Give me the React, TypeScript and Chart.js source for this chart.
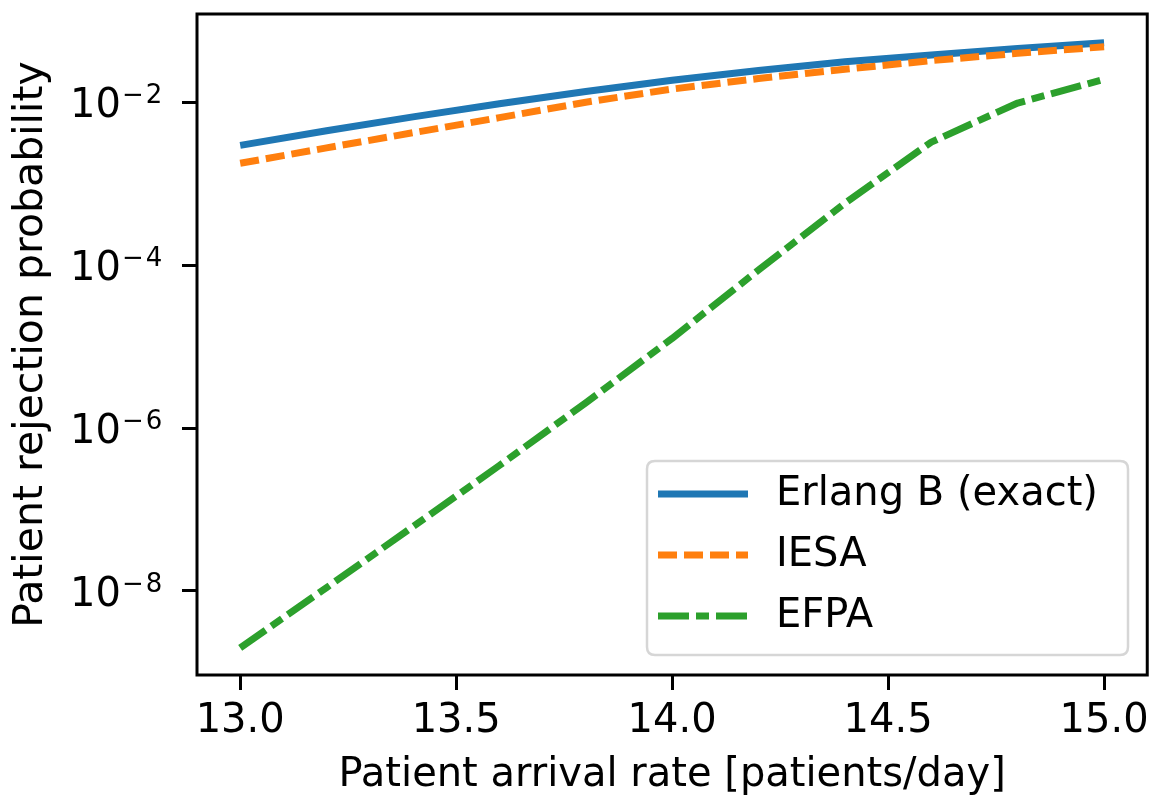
import React, { useEffect, useRef } from 'react';
import { Chart, registerables } from 'chart.js';

Chart.register(...registerables);

// Patient arrival rate [patients/day]
const arrivalRates = [13.0, 13.2, 13.4, 13.6, 13.8, 14.0, 14.2, 14.4, 14.6, 14.8, 15.0];
// Patient rejection probability
const erlangB = [2.95e-3, 4.47e-3, 6.61e-3, 9.55e-3, 1.35e-2, 1.86e-2, 2.45e-2, 3.13e-2, 3.8e-2, 4.57e-2, 5.37e-2];
const iesa = [1.78e-3, 2.75e-3, 4.22e-3, 6.46e-3, 1.0e-2, 1.45e-2, 1.95e-2, 2.54e-2, 3.24e-2, 3.98e-2, 4.79e-2];
const efpa = [2.0e-9, 1.1e-8, 6.17e-8, 3.47e-7, 2.04e-6, 1.26e-5, 8.71e-5, 5.75e-4, 3.24e-3, 9.77e-3, 1.91e-2];

const seriesNames = ['Erlang B (exact)', 'IESA', 'EFPA'];
const xTicks = [13.0, 13.5, 14.0, 14.5, 15.0];
const yTicks = [1e-8, 1e-6, 1e-4, 1e-2];

const FONT = 'DejaVu Sans';

export default function App() {
  const ref = useRef<HTMLCanvasElement>(null);

  useEffect(() => {
    const canvas = ref.current;
    if (!canvas) return;

    const boxPlugin = {
      id: 'axesBox',
      afterDatasetsDraw(chart: any) {
        const { ctx, chartArea: a } = chart;
        ctx.save();
        ctx.strokeStyle = '#000';
        ctx.lineWidth = 3;
        ctx.strokeRect(a.left, a.top, a.right - a.left, a.bottom - a.top);
        ctx.restore();
      },
    };

    const yLabelPlugin = {
      id: 'yMathLabels',
      afterDraw(chart: any) {
        const { ctx } = chart;
        const scale = chart.scales.y;
        ctx.save();
        ctx.fillStyle = '#000';
        ctx.textAlign = 'left';
        ctx.textBaseline = 'alphabetic';
        for (const v of yTicks) {
          const py = scale.getPixelForValue(v);
          const exp = Math.round(Math.log10(v));
          ctx.font = `40px "${FONT}"`;
          const x0 = 70;
          ctx.fillText('10', x0, py + 15);
          const w10 = ctx.measureText('10').width;
          ctx.font = `26px "${FONT}"`;
          const xm = x0 + w10 + 1;
          const sign = exp < 0 ? '\u2212' : '';
          ctx.fillText(sign, xm, py + 1);
          const wm = ctx.measureText(sign).width;
          ctx.fillText(String(Math.abs(exp)), xm + wm + 2, py + 1);
        }
        ctx.restore();
      },
    };

    const legendPlugin = {
      id: 'mplLegend',
      afterDraw(chart: any) {
        const { ctx } = chart;
        const x0 = 647, y0 = 461, x1 = 1128, y1 = 655, r = 8;
        ctx.save();
        ctx.beginPath();
        ctx.moveTo(x0 + r, y0);
        ctx.lineTo(x1 - r, y0);
        ctx.quadraticCurveTo(x1, y0, x1, y0 + r);
        ctx.lineTo(x1, y1 - r);
        ctx.quadraticCurveTo(x1, y1, x1 - r, y1);
        ctx.lineTo(x0 + r, y1);
        ctx.quadraticCurveTo(x0, y1, x0, y1 - r);
        ctx.lineTo(x0, y0 + r);
        ctx.quadraticCurveTo(x0, y0, x0 + r, y0);
        ctx.closePath();
        ctx.fillStyle = 'rgba(255,255,255,0.8)';
        ctx.fill();
        ctx.strokeStyle = '#d6d6d6';
        ctx.lineWidth = 2.5;
        ctx.stroke();
        const rows = [494, 555, 616];
        chart.data.datasets.forEach((ds: any, i: number) => {
          const y = rows[i];
          ctx.beginPath();
          ctx.setLineDash(ds.borderDash || []);
          ctx.lineCap = 'butt';
          ctx.strokeStyle = ds.borderColor;
          ctx.lineWidth = ds.borderWidth;
          ctx.moveTo(658, y);
          ctx.lineTo(748, y);
          ctx.stroke();
          ctx.setLineDash([]);
          ctx.fillStyle = '#000';
          ctx.font = `40px "${FONT}"`;
          ctx.textAlign = 'left';
          ctx.textBaseline = 'middle';
          ctx.fillText(ds.label, 776, y + 1);
        });
        ctx.restore();
      },
    };

    const mk = (vals: number[]) => arrivalRates.map((x, i) => ({ x, y: vals[i] }));

    const chart = new Chart(canvas, {
      type: 'line',
      data: {
        datasets: [
          {
            label: seriesNames[0],
            data: mk(erlangB),
            borderColor: '#1f77b4',
            borderWidth: 7,
            borderDash: [],
            pointRadius: 0,
            tension: 0,
            order: 3,
            borderCapStyle: 'butt',
            borderJoinStyle: 'round',
          },
          {
            label: seriesNames[1],
            data: mk(iesa),
            borderColor: '#ff7f0e',
            borderWidth: 7,
            borderDash: [19, 7],
            pointRadius: 0,
            tension: 0,
            order: 2,
            borderCapStyle: 'butt',
            borderJoinStyle: 'round',
          },
          {
            label: seriesNames[2],
            data: mk(efpa),
            borderColor: '#2ca02c',
            borderWidth: 7,
            borderDash: [31, 7, 13, 7],
            pointRadius: 0,
            tension: 0,
            order: 1,
            borderCapStyle: 'butt',
            borderJoinStyle: 'round',
          },
        ],
      },
      options: {
        responsive: false,
        animation: false,
        devicePixelRatio: 1,
        layout: { padding: { left: 0, top: 14, right: 9, bottom: 0 } },
        plugins: {
          legend: { display: false },
          tooltip: { enabled: false },
        },
        scales: {
          x: {
            type: 'linear',
            min: 12.9,
            max: 15.1,
            afterBuildTicks(scale: any) {
              scale.ticks = xTicks.map((v) => ({ value: v }));
            },
            afterFit(scale: any) {
              scale.height = 127;
            },
            border: { display: false },
            grid: {
              display: true,
              drawOnChartArea: false,
              drawTicks: true,
              tickLength: 15,
              lineWidth: 3,
              color: '#000',
              tickColor: '#000',
            },
            ticks: {
              color: '#000',
              font: { family: FONT, size: 40 },
              padding: 8,
              maxRotation: 0,
              autoSkip: false,
              callback: (v: any) => Number(v).toFixed(1),
            },
            title: {
              display: true,
              text: 'Patient arrival rate [patients/day]',
              color: '#000',
              font: { family: FONT, size: 40 },
              padding: { top: 0, bottom: 2 },
            },
          },
          y: {
            type: 'logarithmic',
            min: 9.3e-10,
            max: 0.121,
            afterBuildTicks(scale: any) {
              scale.ticks = yTicks.map((v) => ({ value: v }));
            },
            afterFit(scale: any) {
              scale.width = 197;
              scale.paddingTop = 0;
              scale.paddingBottom = 0;
            },
            border: { display: false },
            grid: {
              display: true,
              drawOnChartArea: false,
              drawTicks: true,
              tickLength: 15,
              lineWidth: 3,
              color: '#000',
              tickColor: '#000',
            },
            ticks: {
              color: '#000',
              font: { family: FONT, size: 1 },
              padding: 0,
              autoSkip: false,
              callback: () => '',
            },
            title: {
              display: true,
              text: 'Patient rejection probability',
              color: '#000',
              font: { family: FONT, size: 41 },
              padding: { top: 7, bottom: 0 },
            },
          },
        },
      },
      plugins: [boxPlugin, yLabelPlugin, legendPlugin],
    } as any);

    return () => chart.destroy();
  }, []);

  return (
    <div style={{ position: 'fixed', left: 0, top: 0, width: 1157, height: 802, background: '#fff' }}>
      <canvas ref={ref} width={1157} height={802} style={{ width: 1157, height: 802, display: 'block' }} />
    </div>
  );
}
